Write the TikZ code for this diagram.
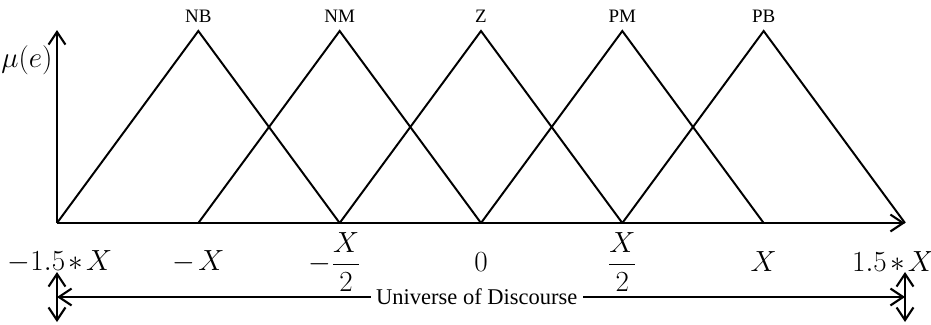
\documentclass[tikz,border=0pt]{standalone}
\usepackage{amsmath}
\usepackage{fontspec}
\setmainfont{Liberation Serif}
\usetikzlibrary{arrows.meta,calc,positioning}

\begin{document}
\begin{tikzpicture}[x=0.025cm,y=-0.025cm,
    tri/.style={line width=1.4pt},
    axis/.style={line width=1.5pt,-{Straight Barb[length=9pt,width=12pt]}},
    dbl/.style={line width=1.5pt,{Straight Barb[length=9pt,width=12pt]}-{Straight Barb[length=9pt,width=12pt]}},
    setlab/.style={font=\fontsize{13.5}{15}\selectfont},
    ticklab/.style={font=\fontsize{20}{23}\selectfont,inner sep=1pt}]
      \useasboundingbox (0,0) rectangle (931,324);
      % Define coordinates
      \foreach \i in {0,...,6}
        \coordinate (a\i) at ({57+141.33*\i},223);
      \foreach \i in {1,...,5}
        \coordinate (t\i) at ({57+141.33*\i},31);
      \coordinate (ytop) at (57,30);
      % Membership functions
      \draw[tri] (a0) -- (t1) -- (a2);
      \draw[tri] (a1) -- (t2) -- (a3);
      \draw[tri] (a2) -- (t3) -- (a4);
      \draw[tri] (a3) -- (t4) -- (a5);
      \draw[tri] (a4) -- (t5) -- (a6);
      % Fuzzy set names
      \node[setlab] (nb) at ($(t1)+(0,-15)$) {NB};
      \node[setlab] (nm) at ($(t2)+(0,-15)$) {NM};
      \node[setlab] (z)  at ($(t3)+(0,-15)$) {Z};
      \node[setlab] (pm) at ($(t4)+(0,-15)$) {PM};
      \node[setlab] (pb) at ($(t5)+(0,-15)$) {PB};
      % Axes
      \draw[axis] (a0) -- (a6);
      \draw[axis] (a0) -- (ytop);
      \node[ticklab] (mu) at (27,60) {$\mu(e)$};
      % Tick labels
      \node[ticklab] (l0) at ($(a0)+(3,39)$) {$-1.5\mkern2mu{*}\mkern2mu X$};
      \node[ticklab] (l1) at ($(a1)+(0,39)$) {$-\mkern2mu X$};
      \node[ticklab] (l2) at ($(a2)+(-5,39)$) {$-\dfrac{X}{2}$};
      \node[ticklab] (l3) at ($(a3)+(0,39)$) {$0$};
      \node[ticklab] (l4) at ($(a4)+(0,39)$) {$\dfrac{X}{2}$};
      \node[ticklab] (l5) at ($(a5)+(0,39)$) {$X$};
      \node[ticklab] (l6) at ($(a6)+(-12,39)$) {$1.5\mkern2mu{*}\mkern2mu X$};
      % Universe of discourse
      \coordinate (u1) at (57,272);
      \coordinate (u2) at (57,322);
      \coordinate (v1) at (905,272);
      \coordinate (v2) at (905,322);
      \coordinate (ul) at (57,297);
      \coordinate (ur) at (905,297);
      \draw[dbl] (u1) -- (u2);
      \draw[dbl] (v1) -- (v2);
      \draw[dbl] (ul) -- (ur) node[pos=0.495,fill=white,inner sep=4pt,font=\fontsize{16}{18}\selectfont] (ud) {Universe of Discourse};
    \end{tikzpicture}
\end{document}
